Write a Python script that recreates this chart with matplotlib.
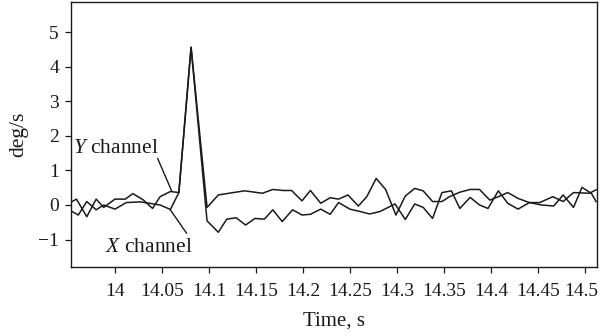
import matplotlib
matplotlib.use("Agg")
import matplotlib.pyplot as plt
import matplotlib.transforms as mtransforms

# Y channel (readings)
y_time = [13.953, 13.959, 13.970, 13.980, 13.988, 14.000, 14.011, 14.019, 14.030, 14.040,
          14.048, 14.059, 14.068, 14.081, 14.098, 14.110, 14.126, 14.138, 14.157, 14.168,
          14.179, 14.188, 14.199, 14.208, 14.219, 14.229, 14.238, 14.248, 14.259, 14.268,
          14.278, 14.288, 14.299, 14.309, 14.319, 14.328, 14.338, 14.348, 14.356, 14.367,
          14.378, 14.388, 14.399, 14.408, 14.418, 14.429, 14.441, 14.452, 14.466, 14.477,
          14.488, 14.505, 14.512]
y_vals = [0.08, 0.17, -0.34, 0.17, -0.07, 0.17, 0.17, 0.33, 0.15, -0.10,
          0.24, 0.39, 0.36, 4.57, -0.07, 0.29, 0.36, 0.41, 0.34, 0.45,
          0.42, 0.42, 0.12, 0.42, 0.05, 0.21, 0.17, 0.29, -0.03, 0.24,
          0.77, 0.45, -0.29, 0.26, 0.48, 0.41, 0.10, 0.10, 0.24, 0.37,
          0.45, 0.45, 0.14, 0.24, 0.36, 0.19, 0.07, 0.07, 0.24, 0.10,
          0.36, 0.34, 0.44]

# X channel (readings)
x_time = [13.953, 13.961, 13.970, 13.980, 13.988, 14.000, 14.012, 14.027, 14.039, 14.048,
          14.059, 14.068, 14.081, 14.098, 14.110, 14.119, 14.129, 14.139, 14.149, 14.159,
          14.168, 14.178, 14.189, 14.199, 14.208, 14.219, 14.229, 14.238, 14.250, 14.261,
          14.271, 14.282, 14.298, 14.309, 14.319, 14.328, 14.338, 14.348, 14.358, 14.367,
          14.378, 14.388, 14.397, 14.408, 14.418, 14.429, 14.441, 14.454, 14.467, 14.477,
          14.488, 14.497, 14.507, 14.512]
x_vals = [-0.17, -0.29, 0.10, -0.14, 0.00, -0.12, 0.07, 0.09, 0.04, 0.00,
          -0.13, 0.36, 4.57, -0.46, -0.79, -0.41, -0.37, -0.58, -0.39, -0.41,
          -0.14, -0.48, -0.14, -0.29, -0.27, -0.12, -0.27, 0.07, -0.12, -0.19,
          -0.26, -0.19, 0.03, -0.42, 0.03, -0.07, -0.39, 0.36, 0.41, -0.10,
          0.22, 0.00, -0.10, 0.41, 0.05, -0.12, 0.07, 0.00, -0.03, 0.29,
          -0.07, 0.51, 0.34, 0.10]

x_ticks = [14.0, 14.05, 14.1, 14.15, 14.2, 14.25, 14.3, 14.35, 14.4, 14.45, 14.5]
x_tick_labels = ["14", "14.05", "14.1", "14.15", "14.2", "14.25", "14.3", "14.35", "14.4", "14.45", "14.5"]
y_ticks = [-1, 0, 1, 2, 3, 4, 5]

plt.rcParams['font.family'] = ['Liberation Serif', 'DejaVu Serif']
plt.rcParams['mathtext.fontset'] = 'custom'
plt.rcParams['mathtext.it'] = 'Liberation Serif:italic'
plt.rcParams['mathtext.rm'] = 'Liberation Serif'

fig = plt.figure(figsize=(6.0, 3.36), dpi=100)
ax = fig.add_axes([0.118, 0.205, 0.877, 0.789])

lc = '#1a1a1a'
ax.plot(y_time, y_vals, color=lc, lw=1.1)
ax.plot(x_time, x_vals, color=lc, lw=1.1)

ax.set_xlim(13.953, 14.513)
ax.set_ylim(-1.8, 5.88)
ax.set_xticks(x_ticks)
ax.set_xticklabels(x_tick_labels)
ax.set_yticks(y_ticks)
ax.set_yticklabels([str(v).replace('-', '\u2212') for v in y_ticks])
ax.tick_params(direction='out', length=4.5, width=0.9, labelsize=14, colors='#1a1a1a')
ax.tick_params(axis='x', pad=7)
ax.tick_params(axis='y', pad=4)
for s in ax.spines.values():
    s.set_linewidth(1.0)
    s.set_color('#1a1a1a')

# nudge last x tick label so it stays inside the figure
last = ax.get_xticklabels()[-1]
last.set_transform(last.get_transform() + mtransforms.ScaledTranslation(-4 / 100, 0, fig.dpi_scale_trans))

ax.set_xlabel('Time, s', fontsize=15, labelpad=8, color='#1a1a1a')
ax.set_ylabel('deg/s', fontsize=15.5, labelpad=7, color='#1a1a1a')

# labels and pointer lines
ax.text(14.0005, 1.65, '$Y$ channel', fontsize=15.5, ha='center', va='center', color='#1a1a1a')
ax.annotate('', xy=(14.0603, 0.41), xytext=(14.0454, 1.35),
            arrowprops=dict(arrowstyle='-', color=lc, lw=1.0, shrinkA=0, shrinkB=0))
ax.text(14.0356, -1.22, '$X$ channel', fontsize=15.5, ha='center', va='center', color='#1a1a1a')
ax.annotate('', xy=(14.0585, -0.125), xytext=(14.0763, -0.82),
            arrowprops=dict(arrowstyle='-', color=lc, lw=1.0, shrinkA=0, shrinkB=0))

fig.savefig('out.png', dpi=100)
